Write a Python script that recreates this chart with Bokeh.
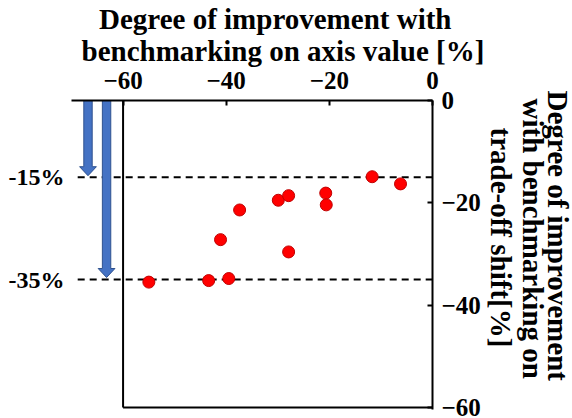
from bokeh.plotting import figure
from bokeh.models import Range1d, FixedTicker, LinearAxis, Title
from bokeh.embed import file_html
from bokeh.resources import INLINE

# ---- data ----
axis_improve = [-55.0, -43.4, -39.5, -41.1, -37.4, -29.9, -27.9, -27.9, -20.7, -20.6, -11.7, -6.2]
tradeoff_improve = [-35.5, -35.2, -34.8, -27.2, -21.4, -19.5, -18.6, -29.6, -18.1, -20.4, -14.9, -16.3]
ref_levels = [-15, -35]
ref_labels = ["-15%", "-35%"]
arrow_x = [-66.8, -63.2]
arrow_tip = [-14.7, -34.6]
x_ticks = [-60, -40, -20, 0]
y_ticks = [0, -20, -40, -60]
top_title = ["Degree of improvement with", "benchmarking on axis value [%]"]
right_title = ["Degree of improvement", "with benchmarking on", "trade-off shift[%]"]

FONT = "Liberation Serif"
W, H = 572, 418
BL, BR, BT, BB = 71, 140, 100, 9
XMIN, XMAX = -70, 0
YMIN, YMAX = -60.4, 0
px_x = (W - BL - BR) / (XMAX - XMIN)
px_y = (H - BT - BB) / (YMAX - YMIN)

p = figure(width=W, height=H, output_backend="svg", toolbar_location=None,
           x_range=Range1d(XMIN, XMAX), y_range=Range1d(YMIN, YMAX),
           x_axis_location="above", y_axis_location="right",
           min_border_left=BL, min_border_right=BR, min_border_top=BT, min_border_bottom=BB)
p.outline_line_color = None
p.xgrid.visible = False
p.ygrid.visible = False
p.background_fill_color = "white"
p.border_fill_color = "white"

for ax, ticks in ((p.xaxis[0], x_ticks), (p.yaxis[0], y_ticks)):
    ax.ticker = FixedTicker(ticks=ticks)
    ax.major_label_text_font = FONT
    ax.major_label_text_font_style = "bold"
    ax.major_label_text_font_size = "25px"
    ax.major_label_text_color = "black"
    ax.axis_line_width = 2
    ax.axis_line_color = "black"
    ax.major_tick_in = 5
    ax.major_tick_out = 0
    ax.major_tick_line_width = 2
    ax.minor_tick_line_color = None
p.xaxis[0].major_label_standoff = 12
p.yaxis[0].major_label_standoff = 9

# left "axis" carrying the level labels
lax = LinearAxis(ticker=FixedTicker(ticks=ref_levels),
                 major_label_overrides={lv: t for lv, t in zip(ref_levels, ref_labels)},
                 axis_line_color=None, major_tick_line_color=None, minor_tick_line_color=None,
                 major_tick_in=0, major_tick_out=0,
                 major_label_text_font=FONT, major_label_text_font_style="bold",
                 major_label_text_font_size="24px", major_label_text_color="black",
                 major_label_standoff=7)
p.add_layout(lax, "left")

def title(txt, off, standoff):
    return Title(text=txt, align="left", offset=off, text_font=FONT, text_font_style="bold",
                 text_font_size="29px", text_color="black", standoff=standoff)

# top title: one Title per line (nearest the axis first)
p.add_layout(title(top_title[1], 10, 4), "above")
p.add_layout(title(top_title[0], 27.5, -9.5), "above")

# right title: rotated, one Title per line (nearest the axis first)
p.add_layout(title(right_title[2], 27, 3), "right")
p.add_layout(title(right_title[1], -2, -8), "right")
p.add_layout(title(right_title[0], -10, -10), "right")

# box lines (left at -60 and bottom)
p.segment(x0=[x_ticks[0], x_ticks[0]], y0=[y_ticks[0], y_ticks[-1]],
          x1=[x_ticks[0], x_ticks[-1]], y1=[y_ticks[-1], y_ticks[-1]],
          line_color="black", line_width=2)

# dashed reference lines
p.segment(x0=[-68.8] * len(ref_levels), y0=ref_levels, x1=[0] * len(ref_levels), y1=ref_levels,
          line_color="black", line_width=2, line_dash="7 5")

# block arrows
hw = 4.2 / px_x
HW = 8.4 / px_x
hl = 9.0 / px_y
xs, ys = [], []
for ax_, tip in zip(arrow_x, arrow_tip):
    xs.append([ax_ - hw, ax_ - hw, ax_ - HW, ax_, ax_ + HW, ax_ + hw, ax_ + hw])
    ys.append([0, tip + hl, tip + hl, tip, tip + hl, tip + hl, 0])
p.patches(xs, ys, fill_color="#4472C4", line_color="#2F528F", line_width=1)

# points
p.scatter(axis_improve, tradeoff_improve, size=12, fill_color="#FF0000", line_color="#C00000", line_width=1)

open("out.html", "w").write(file_html(p, INLINE))
